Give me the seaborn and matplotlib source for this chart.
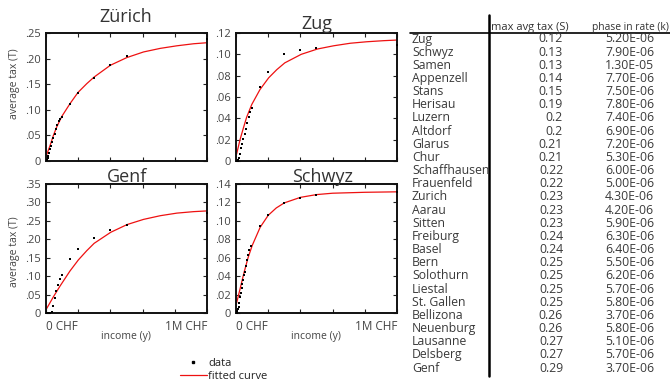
import numpy as np
import pandas as pd
import matplotlib
matplotlib.use("Agg")
import matplotlib.pyplot as plt
import seaborn as sns
from matplotlib.lines import Line2D
from matplotlib.ticker import FixedLocator, FuncFormatter

# ---------------- data (income in thousand CHF, average tax) ----------------
zurich_income = [5, 10, 15, 20, 27, 33, 40, 46, 54, 62, 70, 80, 90, 100, 150, 200, 300, 400, 500, 1000]
zurich_tax = [0.002, 0.005, 0.010, 0.016, 0.024, 0.030, 0.037, 0.045, 0.053, 0.0625, 0.071, 0.079,
              0.083, 0.0855, 0.112, 0.1336, 0.163, 0.1875, 0.2046, 0.239]
zurich_fit_income = [4, 25, 46, 66, 98, 149, 199, 253, 299, 400, 502, 606, 710, 813, 917, 1000]
zurich_fit_tax = [0.012, 0.030, 0.050, 0.066, 0.087, 0.112, 0.134, 0.151, 0.164, 0.187, 0.202,
                  0.213, 0.220, 0.225, 0.229, 0.231]

zug_income = [5, 10, 15, 20, 27, 33, 40, 46, 54, 62, 70, 80, 90, 100, 150, 200, 300, 400, 500, 1000]
zug_tax = [0.0, 0.0003, 0.001, 0.003, 0.007, 0.012, 0.016, 0.021, 0.025, 0.030, 0.036, 0.041,
           0.046, 0.050, 0.069, 0.083, 0.1006, 0.104, 0.106, 0.109]
zug_fit_income = [4, 25, 46, 66, 98, 149, 203, 253, 303, 405, 506, 606, 710, 813, 917, 1000]
zug_fit_tax = [0.0066, 0.020, 0.031, 0.041, 0.053, 0.067, 0.078, 0.0856, 0.092, 0.100, 0.105,
               0.108, 0.1104, 0.1118, 0.1128, 0.1134]

genf_income = [5, 15, 25, 40, 46, 55, 64, 75, 87, 98, 150, 200, 300, 400, 500, 1000]
genf_tax = [0.0, 0.0, 0.001, 0.003, 0.020, 0.042, 0.060, 0.077, 0.091, 0.103, 0.147, 0.173,
            0.204, 0.224, 0.238, 0.270]
genf_fit_income = [4, 46, 87, 149, 201, 253, 299, 402, 504, 606, 710, 813, 917, 1000]
genf_fit_tax = [0.012, 0.044, 0.073, 0.114, 0.144, 0.169, 0.189, 0.219, 0.240, 0.254, 0.264,
                0.271, 0.275, 0.277]

schwyz_income = [5, 8, 12, 16, 20, 25, 30, 35, 40, 45, 50, 55, 62, 70, 76, 83, 92, 150, 200, 300,
                 400, 500, 1000]
schwyz_tax = [0.0, 0.002, 0.004, 0.007, 0.011, 0.017, 0.022, 0.027, 0.031, 0.036, 0.041, 0.045,
              0.051, 0.057, 0.063, 0.068, 0.073, 0.094, 0.106, 0.119, 0.125, 0.128, 0.131]
schwyz_fit_income = [4, 25, 50, 75, 100, 150, 200, 250, 300, 400, 500, 600, 800, 1000]
schwyz_fit_tax = [0.011, 0.026, 0.044, 0.060, 0.073, 0.093, 0.106, 0.114, 0.1195, 0.1255,
                  0.1285, 0.1300, 0.1310, 0.1315]

panel_titles = ["Zürich", "Zug", "Genf", "Schwyz"]
panel_ymax = [0.25, 0.12, 0.35, 0.14]
panel_ystep = [0.05, 0.02, 0.05, 0.02]

x_tick_values = [0, 200, 400, 600, 800, 1000]
x_tick_labels = ["0 CHF", "", "", "", "", "1M CHF"]

table_cities = ["Zug", "Schwyz", "Samen", "Appenzell", "Stans", "Herisau", "Luzern", "Altdorf",
                "Glarus", "Chur", "Schaffhausen", "Frauenfeld", "Zurich", "Aarau", "Sitten",
                "Freiburg", "Basel", "Bern", "Solothurn", "Liestal", "St. Gallen", "Bellizona",
                "Neuenburg", "Lausanne", "Delsberg", "Genf"]
table_max_tax = [0.12, 0.13, 0.13, 0.14, 0.15, 0.19, 0.2, 0.2, 0.21, 0.21, 0.22, 0.22, 0.23,
                 0.23, 0.23, 0.24, 0.24, 0.25, 0.25, 0.25, 0.25, 0.26, 0.26, 0.27, 0.27, 0.29]
table_phase_rate = [5.2e-6, 7.9e-6, 1.3e-5, 7.7e-6, 7.5e-6, 7.8e-6, 7.4e-6, 6.9e-6, 7.2e-6,
                    5.3e-6, 6.0e-6, 5.0e-6, 4.3e-6, 4.2e-6, 5.9e-6, 6.3e-6, 6.4e-6, 5.5e-6,
                    6.2e-6, 5.7e-6, 5.8e-6, 3.7e-6, 5.8e-6, 5.1e-6, 5.7e-6, 3.7e-6]
table_headers = ["max avg tax (S)", "phase in rate (k)"]

# ---------------- style ----------------
sns.set_theme(style="white")
plt.rcParams["font.family"] = ["Open Sans", "DejaVu Sans"]
TXT = "#333333"

W, H = 670, 382
fig = plt.figure(figsize=(W / 100, H / 100), dpi=100)


def fx(px):
    return px / W


def fy(py):
    return 1 - py / H


# axes boxes in pixels: (left, top, right, bottom)
boxes = [(46, 33, 207, 161), (236, 33, 397, 161), (46, 184, 207, 313), (236, 184, 397, 313)]
scatter_data = [(zurich_income, zurich_tax), (zug_income, zug_tax),
                (genf_income, genf_tax), (schwyz_income, schwyz_tax)]
fit_data = [(zurich_fit_income, zurich_fit_tax), (zug_fit_income, zug_fit_tax),
            (genf_fit_income, genf_fit_tax), (schwyz_fit_income, schwyz_fit_tax)]

axes = []
for i, (l, t, r, b) in enumerate(boxes):
    ax = fig.add_axes([fx(l), fy(b), fx(r - l), (b - t) / H])
    axes.append(ax)
    dfp = pd.DataFrame({"income": scatter_data[i][0], "tax": scatter_data[i][1]})
    dff = pd.DataFrame({"income": fit_data[i][0], "tax": fit_data[i][1]})
    sns.lineplot(data=dff, x="income", y="tax", ax=ax, color="#ee1111", linewidth=0.9,
                 zorder=2, label="fitted curve", legend=False)
    sns.scatterplot(data=dfp, x="income", y="tax", ax=ax, color="black", s=4, marker="s",
                    linewidth=0, zorder=3, clip_on=False, label="data", legend=False)
    ax.set_xlim(0, 1000)
    ax.set_ylim(0, panel_ymax[i])
    ax.set_xlabel("")
    ax.set_ylabel("")
    yt = np.round(np.arange(0, panel_ymax[i] + 1e-9, panel_ystep[i]), 3)
    ax.yaxis.set_major_locator(FixedLocator(yt))
    ax.yaxis.set_major_formatter(FuncFormatter(
        lambda v, p: "0" if abs(v) < 1e-9 else f"{v:.2f}".lstrip("0")))
    ax.xaxis.set_major_locator(FixedLocator(x_tick_values))
    if i >= 2:
        ax.set_xticklabels(x_tick_labels)
        labs = ax.get_xticklabels()
        labs[0].set_ha("left")
        labs[-1].set_ha("right")
    else:
        ax.set_xticklabels([])
    ax.tick_params(axis="both", which="major", direction="in", length=3, width=0.8,
                   top=True, right=True, bottom=True, left=True, colors="#222222",
                   labelsize=8, labelcolor="#444444", pad=4)
    ax.tick_params(axis="x", pad=5, labelsize=8.5)
    for s in ax.spines.values():
        s.set_visible(True)
        s.set_color("#111111")
        s.set_linewidth(1.4)
    ax.set_facecolor("white")

# titles
title_pos = [(126, 22), (317, 29), (127, 182), (323, 182)]
for name, (px, py) in zip(panel_titles, title_pos):
    fig.text(fx(px), fy(py), name, ha="center", va="baseline", fontsize=13, color=TXT)

# axis labels
fig.text(fx(14), fy(84), "average tax (T)", rotation=90, ha="center", va="center",
         fontsize=7.5, color="#444444")
fig.text(fx(14), fy(252), "average tax (T)", rotation=90, ha="center", va="center",
         fontsize=7.5, color="#444444")
fig.text(fx(126), fy(336), "income (y)", ha="center", va="center", fontsize=7.5, color="#444444")
fig.text(fx(316), fy(336), "income (y)", ha="center", va="center", fontsize=7.5, color="#444444")

# legend
h1 = Line2D([], [], color="black", marker="s", markersize=1.8, linestyle="none")
h2 = Line2D([], [], color="#ee1111", linewidth=0.9)
fig.legend([h1, h2], ["data", "fitted curve"], loc="center left",
           bbox_to_anchor=(fx(180), fy(370)), frameon=False, fontsize=8, handlelength=2.4,
           handletextpad=0.15, labelspacing=0.15, borderpad=0, borderaxespad=0,
           labelcolor="#222222")

# table
fig.add_artist(Line2D([fx(489), fx(489)], [fy(15), fy(376)], color="black", linewidth=1.8))
fig.add_artist(Line2D([fx(410), fx(670)], [fy(33), fy(33)], color="black", linewidth=1.2))
renderer = fig.canvas.get_renderer()


def fitted_text(x0, x1, y, s, size):
    t = fig.text(fx(x0), fy(y), s, ha="left", va="baseline", fontsize=size, color=TXT)
    w = t.get_window_extent(renderer=renderer).width
    if w > (x1 - x0):
        t.set_fontsize(size * (x1 - x0) / w)
    return t


fitted_text(491, 589, 30, table_headers[0], 8.0)
fitted_text(592, 669, 30, table_headers[1], 8.0)
for r, (c, s, k) in enumerate(zip(table_cities, table_max_tax, table_phase_rate)):
    yy = fy(39 + r * 13.16)
    fig.text(fx(412), yy, c, ha="left", va="center", fontsize=8.8, color="#3a3a3a")
    fig.text(fx(563), yy, f"{s:g}", ha="right", va="center", fontsize=8.8, color="#3a3a3a")
    fig.text(fx(605), yy, f"{k:.2E}", ha="left", va="center", fontsize=8.8, color="#3a3a3a")

fig.savefig("out.png", dpi=100, facecolor="white")
